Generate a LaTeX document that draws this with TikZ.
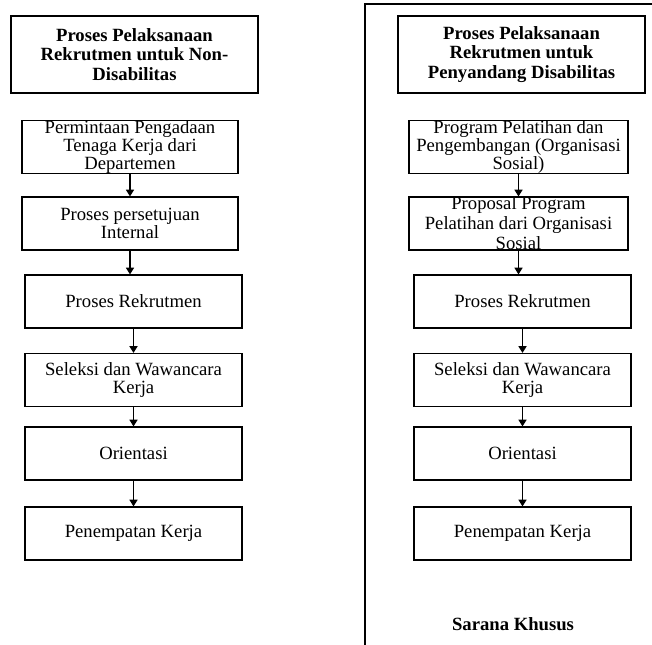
\documentclass[tikz,border=0pt]{standalone}
\usepackage{fontspec}
\setmainfont{Liberation Serif}
\usetikzlibrary{arrows.meta}
\begin{document}
\begin{tikzpicture}[x=0.75pt,y=-0.75pt,
  box/.style={draw, line width=0.9pt, align=center, inner sep=0pt,
    minimum height=39.75pt, font=\fontsize{14}{13.8}\selectfont},
  lbox/.style={box, minimum width=162pt},
  lbox2/.style={box, minimum width=162.75pt},
  rbox/.style={box, minimum width=164.25pt},
  rbox2/.style={box, minimum width=162.75pt},
  ttl/.style={draw, line width=0.9pt, align=center, inner sep=0pt,
    minimum width=185.25pt, minimum height=57.75pt,
    font=\fontsize{14}{14.6}\selectfont\bfseries},
  arr/.style={line width=0.9pt, -{Triangle[length=5pt,width=6pt]}}]
\useasboundingbox (0,0) rectangle (652,644);
% outer frame (right column)
\draw[line width=0.9pt] (660,4) -- (365,4) -- (365,650);
% left column
\node[ttl] (lt) at (134.5,54.5) {Proses Pelaksanaan\\Rekrutmen untuk Non-\\Disabilitas};
\node[lbox] (l1) at (130,147) {Permintaan Pengadaan\\Tenaga Kerja dari\\Departemen};
\node[lbox] (l2) at (130,223.5) {Proses persetujuan\\Internal};
\node[lbox2] (l3) at (133.5,301.5) {Proses Rekrutmen};
\node[lbox2] (l4) at (133.5,380) {Seleksi dan Wawancara\\Kerja};
\node[lbox2] (l5) at (133.5,453.5) {Orientasi};
\node[lbox2] (l6) at (133.5,533.5) {Penempatan Kerja};
\draw[arr] (l1.south) -- (l2.north);
\draw[arr] (l2.south) -- (l2.south |- l3.north);
\draw[arr] (l3.south) -- (l4.north);
\draw[arr] (l4.south) -- (l5.north);
\draw[arr] (l5.south) -- (l6.north);
% right column
\node[ttl] (rt) at (521.5,54.5) {Proses Pelaksanaan\\Rekrutmen untuk\\Penyandang Disabilitas};
\node[rbox] (r1) at (518.5,147) {Program Pelatihan dan\\Pengembangan (Organisasi\\Sosial)};
\node[rbox, inner ysep=-2.5pt, font=\fontsize{14}{15}\selectfont] (r2) at (518.5,223.5) {Proposal Program\\Pelatihan dari Organisasi\\Sosial};
\node[rbox2] (r3) at (522.5,301.5) {Proses Rekrutmen};
\node[rbox2] (r4) at (522.5,380) {Seleksi dan Wawancara\\Kerja};
\node[rbox2] (r5) at (522.5,453.5) {Orientasi};
\node[rbox2] (r6) at (522.5,533.5) {Penempatan Kerja};
\draw[arr] (r1.south) -- (r2.north);
\draw[arr] (r2.south) -- (r2.south |- r3.north);
\draw[arr] (r3.south) -- (r4.north);
\draw[arr] (r4.south) -- (r5.north);
\draw[arr] (r5.south) -- (r6.north);
\node[font=\fontsize{14}{14}\selectfont\bfseries] (sk) at (513,624) {Sarana Khusus};
\end{tikzpicture}
\end{document}
